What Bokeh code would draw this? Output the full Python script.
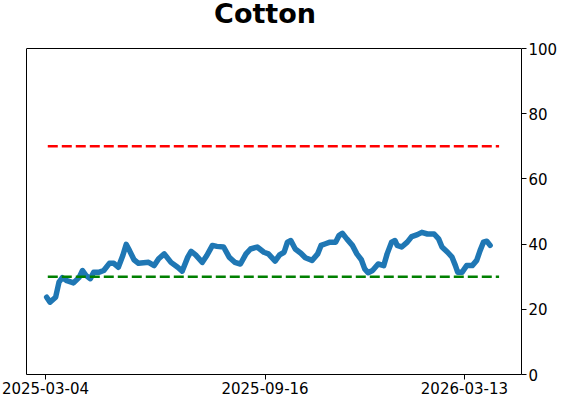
import pandas as pd
from bokeh.plotting import figure
from bokeh.models import FixedTicker, DatetimeTickFormatter, Range1d, LinearAxis, Span
from bokeh.core.properties import value
from bokeh.embed import file_html
from bokeh.resources import INLINE

title_text = "Cotton"

dates = [
    "2025-03-05", "2025-03-08", "2025-03-13", "2025-03-16", "2025-03-19", "2025-03-23", "2025-03-29",
    "2025-04-03", "2025-04-06", "2025-04-09", "2025-04-13", "2025-04-16", "2025-04-21", "2025-04-25", "2025-04-30",
    "2025-05-04", "2025-05-08", "2025-05-12", "2025-05-15", "2025-05-18", "2025-05-22", "2025-05-26",
    "2025-06-04", "2025-06-09", "2025-06-13", "2025-06-18", "2025-06-24", "2025-06-30",
    "2025-07-04", "2025-07-09", "2025-07-12", "2025-07-16", "2025-07-22", "2025-07-26", "2025-07-31",
    "2025-08-04", "2025-08-10", "2025-08-15", "2025-08-20", "2025-08-25", "2025-08-30",
    "2025-09-03", "2025-09-09", "2025-09-15", "2025-09-19", "2025-09-25", "2025-09-29",
    "2025-10-03", "2025-10-06", "2025-10-09", "2025-10-13", "2025-10-18", "2025-10-22", "2025-10-28",
    "2025-11-02", "2025-11-05", "2025-11-09", "2025-11-13", "2025-11-18", "2025-11-21", "2025-11-24", "2025-11-28",
    "2025-12-03", "2025-12-07", "2025-12-11", "2025-12-14", "2025-12-17", "2025-12-21", "2025-12-26", "2025-12-31",
    "2026-01-03", "2026-01-07", "2026-01-10", "2026-01-12", "2026-01-16", "2026-01-21", "2026-01-25", "2026-01-30",
    "2026-02-03", "2026-02-08", "2026-02-14", "2026-02-18", "2026-02-21", "2026-02-26",
    "2026-03-02", "2026-03-05", "2026-03-07", "2026-03-11", "2026-03-15", "2026-03-20", "2026-03-24", "2026-03-27", "2026-03-30",
    "2026-04-02", "2026-04-05",
]

values = [
    23.7, 22.2, 23.7, 28.3, 29.7, 28.8, 28.1,
    29.8, 31.9, 30.4, 29.4, 31.4, 31.4, 31.9, 34.1,
    34.1, 32.9, 36.5, 39.9, 38.0, 35.2, 34.1,
    34.4, 33.4, 35.5, 37.0, 34.4, 32.9,
    31.7, 36.0, 37.8, 36.7, 34.4, 36.5, 39.6,
    39.3, 39.1, 36.0, 34.4, 33.9, 37.0,
    38.5, 39.1, 37.5, 37.0, 34.8, 36.7,
    37.5, 40.6, 41.1, 38.5, 37.2, 35.8, 35.0,
    37.0, 39.6, 40.1, 40.6, 40.6, 42.6, 43.3, 41.6,
    39.6, 37.0, 35.2, 32.4, 31.2, 31.9, 33.9, 33.4,
    37.0, 40.6, 41.1, 39.6, 39.1, 40.6, 42.3, 42.9,
    43.6, 43.1, 43.1, 41.6, 39.1, 37.5,
    36.0, 33.4, 31.4, 31.4, 33.4, 33.4, 35.0, 38.0, 40.6,
    40.9, 39.6,
]

threshold_span = ["2025-03-06", "2026-04-13"]
upper_level = 70
lower_level = 30

x_tick_labels = ["2025-03-04", "2025-09-16", "2026-03-13"]
y_ticks = [0, 20, 40, 60, 80, 100]
x_range_dates = ["2025-02-15", "2026-05-03"]
y_limits = [0, 100]

x = pd.to_datetime(dates)
span = pd.to_datetime(threshold_span)
xr = pd.to_datetime(x_range_dates)
tick_ms = [pd.Timestamp(d).value / 1e6 for d in x_tick_labels]

FONT = "DejaVu Sans"
W, H = 562, 402
BORDER_BOTTOM = 28
PLOT_TOP = 48  # pixel row of the visible plot box top

# The frame starts at the very top so the title can be drawn inside it;
# the visible box (0..100) is drawn with bounded axes and a span.
frame_h = H - BORDER_BOTTOM
y_top = y_limits[1] * frame_h / (frame_h - PLOT_TOP)
title_y = y_limits[1] + (PLOT_TOP - 12.9) * (y_top / frame_h)

p = figure(
    title=None, width=W, height=H,
    x_axis_type="datetime", y_axis_location="right",
    output_backend="svg", toolbar_location=None,
    x_range=Range1d(xr[0], xr[1]), y_range=Range1d(y_limits[0], y_top),
    min_border_left=26, min_border_right=41, min_border_top=0, min_border_bottom=BORDER_BOTTOM,
)

xa = p.below[0]
ya = p.right[0]

p.text(
    x=[pd.Timestamp("2025-09-16")], y=[title_y], text=[title_text],
    text_font=value(FONT), text_font_size="27px", text_font_style="bold",
    text_color="black", text_align="center", text_baseline="alphabetic",
)

p.line(x, values, line_color="#1f77b4", line_width=5.5, line_join="round", line_cap="round")
p.line(span, [upper_level, upper_level], line_color="#ff0000", line_width=2.5, line_dash="10 4")
p.line(span, [lower_level, lower_level], line_color="#008000", line_width=2.5, line_dash="10 4")

p.xgrid.visible = False
p.ygrid.visible = False
p.outline_line_color = None
p.background_fill_color = "white"
p.border_fill_color = "white"

# top edge of the box
p.add_layout(Span(location=y_limits[1], dimension="width", line_color="black", line_width=1))

# left edge of the box: a bare axis line limited to 0..100
left = LinearAxis(ticker=FixedTicker(ticks=[]), bounds=(y_limits[0], y_limits[1]),
                  axis_line_color="black", major_tick_line_color=None,
                  minor_tick_line_color=None, major_label_text_font_size="0px",
                  major_label_standoff=0)
p.add_layout(left, "left")

xa.ticker = FixedTicker(ticks=tick_ms)
fmt = "%Y-%m-%d"
xa.formatter = DatetimeTickFormatter(
    milliseconds=fmt, seconds=fmt, minsec=fmt, minutes=fmt, hourmin=fmt,
    hours=fmt, days=fmt, months=fmt, years=fmt,
)
ya.ticker = FixedTicker(ticks=y_ticks)
ya.bounds = (y_limits[0], y_limits[1])

for ax in (xa, ya):
    ax.major_label_text_font = FONT
    ax.major_label_text_font_size = "15px"
    ax.major_label_text_color = "black"
    ax.axis_line_color = "black"
    ax.major_tick_line_color = "black"
    ax.major_tick_out = 5
    ax.major_tick_in = 0
    ax.minor_tick_line_color = None
    ax.major_label_standoff = 2

open("out.html", "w").write(file_html(p, INLINE))
